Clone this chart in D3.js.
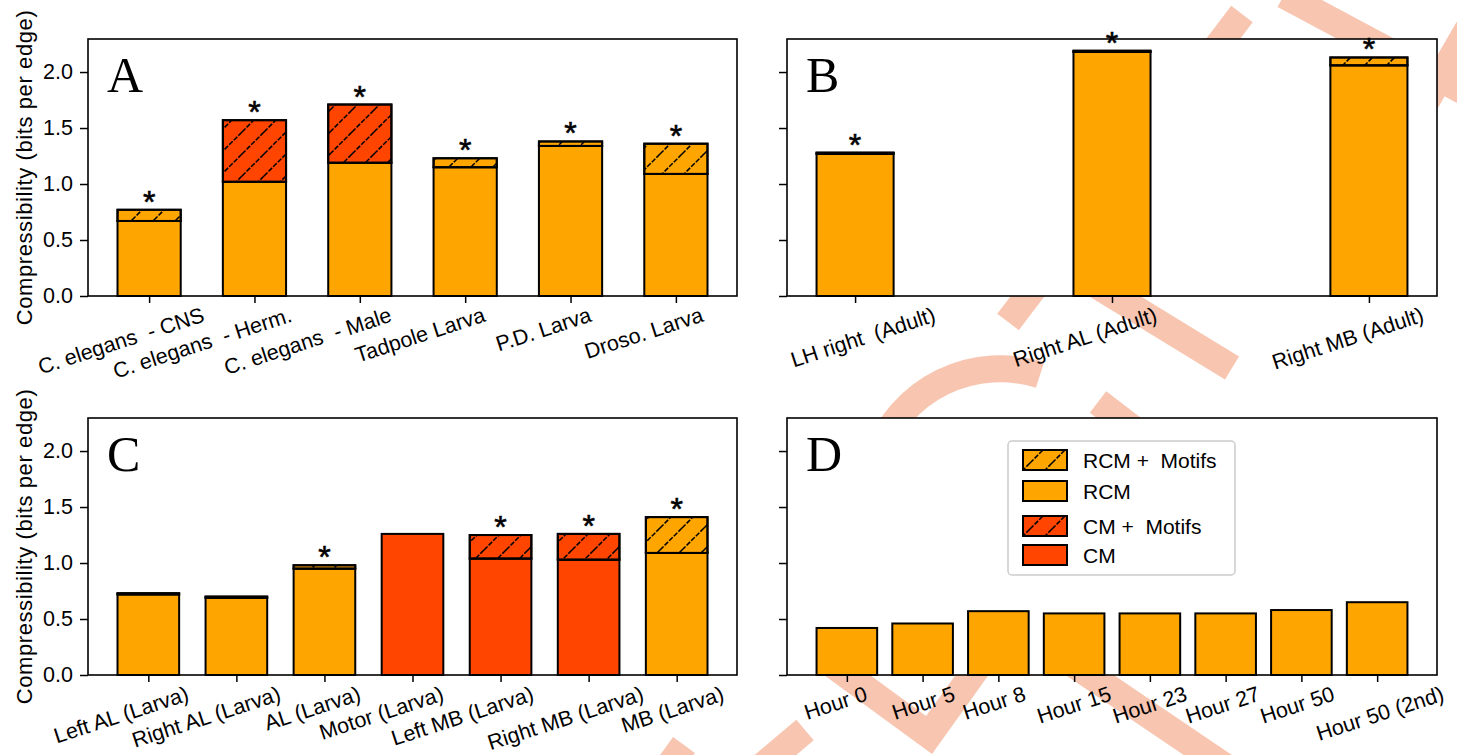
<!DOCTYPE html>
<html>
<head>
<meta charset="utf-8">
<title>Compressibility</title>
<script src="https://d3js.org/d3.v7.min.js"></script>
<style>
  body { margin: 0; background: #fff; }
  text { font-family: "Liberation Sans", Arial, sans-serif; fill: #000; }
</style>
</head>
<body>
<svg id="chart" width="1457" height="755"></svg>
<script>
// ---- data ----
const catA = ["C. elegans  - CNS", "C. elegans  - Herm.", "C. elegans  - Male", "Tadpole Larva", "P.D. Larva", "Droso. Larva"];
const baseA = [0.67, 1.02, 1.19, 1.15, 1.34, 1.09];
const totalA = [0.77, 1.57, 1.71, 1.23, 1.38, 1.36];
const kindA = ["RCM", "RCM", "RCM", "RCM", "RCM", "RCM"];
const topKindA = ["RCM", "CM", "CM", "RCM", "RCM", "RCM"];
const starA = [1, 1, 1, 1, 1, 1];

const catB = ["LH right  (Adult)", "Right AL (Adult)", "Right MB (Adult)"];
const baseB = [1.27, 2.18, 2.06];
const totalB = [1.28, 2.19, 2.13];
const kindB = ["RCM", "RCM", "RCM"];
const topKindB = ["RCM", "RCM", "RCM"];
const starB = [1, 1, 1];

const catC = ["Left AL (Larva)", "Right AL (Larva)", "AL (Larva)", "Motor (Larva)", "Left MB (Larva)", "Right MB (Larva)", "MB (Larva)"];
const baseC = [0.72, 0.69, 0.95, 1.26, 1.04, 1.03, 1.09];
const totalC = [0.73, 0.70, 0.98, 1.26, 1.25, 1.26, 1.41];
const kindC = ["RCM", "RCM", "RCM", "CM", "CM", "CM", "RCM"];
const topKindC = ["RCM", "RCM", "RCM", "CM", "CM", "CM", "RCM"];
const starC = [0, 0, 1, 0, 1, 1, 1];

const catD = ["Hour 0", "Hour 5", "Hour 8", "Hour 15", "Hour 23", "Hour 27", "Hour 50", "Hour 50 (2nd)"];
const baseD = [0.42, 0.46, 0.57, 0.55, 0.55, 0.55, 0.58, 0.65];
const totalD = [0.42, 0.46, 0.57, 0.55, 0.55, 0.55, 0.58, 0.65];
const kindD = ["RCM", "RCM", "RCM", "RCM", "RCM", "RCM", "RCM", "RCM"];
const topKindD = kindD;
const starD = [0, 0, 0, 0, 0, 0, 0, 0];

const yTicks = [0, 0.5, 1.0, 1.5, 2.0];
const yMax = 2.295;
const legendLabels = ["RCM +  Motifs", "RCM", "CM +  Motifs", "CM"];
const legendKinds = ["RCM", "RCM", "CM", "CM"];
const legendHatch = [true, false, true, false];

const colors = { RCM: "#ffa500", CM: "#ff4500" };

const svg = d3.select("#chart");
const defs = svg.append("defs");
defs.append("pattern")
    .attr("id", "hatch")
    .attr("patternUnits", "userSpaceOnUse")
    .attr("width", 22).attr("height", 22)
  .append("path")
    .attr("d", "M-5.5,5.5 L5.5,-5.5 M0,22 L22,0 M16.5,27.5 L27.5,16.5")
    .attr("stroke", "#000").attr("stroke-width", 1.5)
    .attr("stroke-dasharray", "5,1.5");

// ---- faint watermark strokes behind the axes ----
const wm = svg.append("g").attr("fill", "none").attr("stroke", "#f7c5b0").attr("stroke-width", 27);
["M1284,-5 L1480,100", "M1482,5 L1420,112", "M1242,14 L1008,322", "M1080,275 L1232,368",
 "M877,455 A131,131 0 0 1 1040,375", "M1098,402 L1200,480", "M810,648 L929,735 L990,650",
 "M1060,655 L1230,770", "M684,745 L650,792", "M760,768 L805,730"].forEach(d => {
  wm.append("path").attr("d", d).attr("stroke-linejoin", "miter");
});

const panels = [
  { name: "A", box: [88, 39, 737, 296], cats: catA, base: baseA, total: totalA, kind: kindA, topKind: topKindA, star: starA, w: 0.6, ylab: true, shift: [-28, -52, -52, -45, -27, -32] },
  { name: "B", box: [787, 39, 1437, 296], cats: catB, base: baseB, total: totalB, kind: kindB, topKind: topKindB, star: starB, w: 0.3, ylab: false, shift: [8, -27, -21] },
  { name: "C", box: [88, 418, 737, 675], cats: catC, base: baseC, total: totalC, kind: kindC, topKind: topKindC, star: starC, w: 0.7, ylab: true, shift: [-27, -30, -12, -31, -38, -23, -4] },
  { name: "D", box: [787, 418, 1437, 675], cats: catD, base: baseD, total: totalD, kind: kindD, topKind: topKindD, star: starD, w: 0.8, ylab: false, shift: [-11, 1, -4, 0, 0, -3, -4, 3], legend: true }
];

panels.forEach(p => {
  const [x0, y0, x1, y1] = p.box;
  const n = p.cats.length;
  const m = 0.05 * (n - 1 + p.w);
  const x = d3.scaleLinear().domain([-p.w / 2 - m, n - 1 + p.w / 2 + m]).range([x0, x1]);
  const y = d3.scaleLinear().domain([0, yMax]).range([y1, y0]);
  const g = svg.append("g");

  g.append("rect").attr("x", x0).attr("y", y0).attr("width", x1 - x0).attr("height", y1 - y0).attr("fill", "#fff");

  const rows = p.cats.map((c, i) => ({ i, c, base: p.base[i], total: p.total[i], kind: p.kind[i], top: p.topKind[i], star: p.star[i] }));

  // base segment
  g.selectAll(".base").data(rows).join("rect")
    .attr("x", d => x(d.i - p.w / 2)).attr("width", d => x(d.i + p.w / 2) - x(d.i - p.w / 2))
    .attr("y", d => y(d.base)).attr("height", d => y(0) - y(d.base))
    .attr("fill", d => colors[d.kind]).attr("stroke", "#000").attr("stroke-width", 2);

  // motif segment
  const tops = rows.filter(d => d.total > d.base);
  g.selectAll(".top").data(tops).join("rect")
    .attr("x", d => x(d.i - p.w / 2)).attr("width", d => x(d.i + p.w / 2) - x(d.i - p.w / 2))
    .attr("y", d => y(d.total)).attr("height", d => y(d.base) - y(d.total))
    .attr("fill", d => colors[d.top]).attr("stroke", "#000").attr("stroke-width", 2);
  g.selectAll(".hatch").data(tops).join("rect")
    .attr("x", d => x(d.i - p.w / 2)).attr("width", d => x(d.i + p.w / 2) - x(d.i - p.w / 2))
    .attr("y", d => y(d.total)).attr("height", d => y(d.base) - y(d.total))
    .attr("fill", "url(#hatch)").attr("stroke", "#000").attr("stroke-width", 2);

  // significance stars
  g.selectAll(".star").data(rows.filter(d => d.star)).join("text")
    .attr("x", d => x(d.i)).attr("y", d => y(d.total) + 3)
    .attr("text-anchor", "middle").style("font-size", "32px")
    .attr("stroke", "#000").attr("stroke-width", 0.6).text("*");

  // frame
  g.append("rect").attr("x", x0).attr("y", y0).attr("width", x1 - x0).attr("height", y1 - y0)
    .attr("fill", "none").attr("stroke", "#000").attr("stroke-width", 1.6);

  // y axis
  const ya = g.append("g").attr("transform", `translate(${x0},0)`)
    .call(d3.axisLeft(y).tickValues(yTicks).tickSize(8).tickPadding(7).tickSizeOuter(0)
      .tickFormat(p.ylab ? d3.format(".1f") : ""));
  ya.select(".domain").remove();
  ya.selectAll(".tick line").attr("stroke-width", 1.5);
  ya.selectAll(".tick text").style("font-size", "21.5px").style("font-family", "'Liberation Sans', Arial, sans-serif");

  // x axis
  const xa = g.append("g").attr("transform", `translate(0,${y1})`)
    .call(d3.axisBottom(x).tickValues(d3.range(n)).tickSize(7).tickSizeOuter(0).tickFormat(""));
  xa.select(".domain").remove();
  xa.selectAll(".tick line").attr("stroke-width", 1.5);

  // rotated tick labels
  rows.forEach(d => {
    const lg = g.append("g");
    lg.append("text").attr("transform", "rotate(-18)").attr("text-anchor", "middle")
      .attr("dominant-baseline", "central").style("font-size", "21.5px").style("white-space", "pre").text(d.c);
    const bb = lg.node().getBBox();
    const cx = x(d.i) + p.shift[d.i];
    lg.attr("transform", `translate(${cx - (bb.x + bb.width / 2)},${y1 + 7 - bb.y})`);
  });

  // panel letter
  g.append("text").attr("x", x0 + 19).attr("y", y0 + 53)
    .style("font-family", "'Liberation Serif', 'Times New Roman', serif").style("font-size", "50px").text(p.name);

  // y label
  if (p.ylab) {
    g.append("text").attr("transform", `translate(24,${(y0 + y1) / 2}) rotate(-90)`)
      .attr("text-anchor", "middle").attr("dominant-baseline", "central")
      .style("font-size", "22px").style("letter-spacing", "0.6px").text("Compressibility (bits per edge)");
  }

  // legend
  if (p.legend) {
    const lx = x0 + 221, ly = y0 + 23;
    const L = g.append("g").attr("transform", `translate(${lx},${ly})`);
    L.append("rect").attr("width", 227).attr("height", 134).attr("rx", 4)
      .attr("fill", "#fff").attr("fill-opacity", 0.8).attr("stroke", "#cccccc").attr("stroke-width", 1.5);
    const offs = [9, 40, 75, 104];
    legendLabels.forEach((lab, k) => {
      L.append("rect").attr("x", 15).attr("y", offs[k]).attr("width", 44).attr("height", 20)
        .attr("fill", colors[legendKinds[k]]).attr("stroke", "#000").attr("stroke-width", 2);
      if (legendHatch[k]) {
        L.append("rect").attr("x", 15).attr("y", offs[k]).attr("width", 44).attr("height", 20)
          .attr("fill", "url(#hatch)").attr("stroke", "#000").attr("stroke-width", 2);
      }
      L.append("text").attr("x", 75).attr("y", offs[k] + 10).attr("dominant-baseline", "central")
        .style("font-size", "21px").style("white-space", "pre").text(lab);
    });
  }
});
</script>
</body>
</html>
